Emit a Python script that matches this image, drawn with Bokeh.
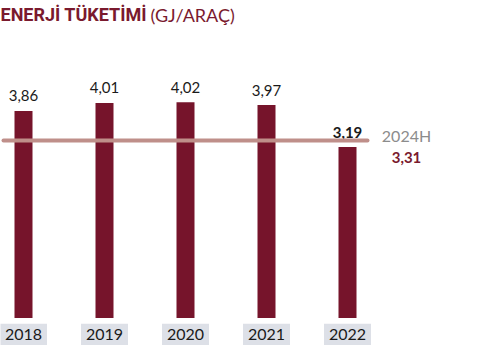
from bokeh.plotting import figure
from bokeh.models import ColumnDataSource, Range1d
from bokeh.core.properties import value
from bokeh.embed import file_html
from bokeh.resources import INLINE

years = ["2018", "2019", "2020", "2021", "2022"]
values = [3.86, 4.01, 4.02, 3.97, 3.19]
value_labels = ["3,86", "4,01", "4,02", "3,97", "3,19"]
target_value = 3.31
target_name = "2024H"
target_label = "3,31"
title_bold = "ENERJİ TÜKETİMİ"
title_unit = "(GJ/ARAÇ)"

BAR = "#76142b"
TITLE = "#7a1a2e"
LINE = "#bf8f8a"
BOX = "#dde0e7"
GRAY = "#8c8c8c"
FONT = "Lato"

W, H = 484, 345
px_x = 81.0            # pixels per category step
x0 = 23.0              # pixel position of first category centre
zero_px = 317.5        # pixel (from top) of value 0
px_y = 53.64           # pixels per unit

xr = Range1d(-x0 / px_x, (W - x0) / px_x)
yr = Range1d(-(H - zero_px) / px_y, zero_px / px_y)

p = figure(width=W, height=H, x_range=xr, y_range=yr, output_backend="svg",
           toolbar_location=None, min_border=0, outline_line_color=None)
p.axis.visible = False
p.grid.visible = False
p.background_fill_color = "white"
p.border_fill_color = "white"

xs = list(range(len(years)))
src = ColumnDataSource(dict(x=xs, top=values, lab=value_labels, year=years))

# bars
p.vbar(x="x", top="top", bottom=0, width=18 / px_x, source=src,
       fill_color=BAR, line_color=None)

# value labels (last one bold)
norm = ColumnDataSource(dict(x=xs[:-1], y=values[:-1], t=value_labels[:-1]))
last = ColumnDataSource(dict(x=xs[-1:], y=values[-1:], t=value_labels[-1:]))
p.text(x="x", y="y", text="t", source=norm, text_align="center",
       text_baseline="alphabetic", y_offset=-15, text_font=value(FONT),
       text_font_size="15px", text_color="#1a1a1a")
p.text(x="x", y="y", text="t", source=last, text_align="center",
       text_baseline="alphabetic", y_offset=-14, text_font=value(FONT),
       text_font_size="15px", text_font_style="bold", text_color="#1a1a1a")

# target line
p.segment(x0=[-20 / px_x], y0=[target_value], x1=[344 / px_x], y1=[target_value],
          line_color=LINE, line_width=4, line_cap="round")
tx = (406 - x0) / px_x
p.text(x=[tx], y=[target_value], text=[target_name], text_align="center",
       text_baseline="alphabetic", y_offset=-5, text_font=value(FONT),
       text_font_size="16px", text_color=GRAY)
p.text(x=[tx], y=[target_value], text=[target_label], text_align="center",
       text_baseline="alphabetic", y_offset=17, text_font=value(FONT),
       text_font_size="15px", text_font_style="bold", text_color=TITLE)

# category boxes and labels
box_y = -(334.1 - zero_px) / px_y
p.rect(x="x", y=box_y, width=47 / px_x, height=21.5 / px_y, source=src,
       fill_color=BOX, line_color=None)
p.text(x="x", y=box_y, text="year", source=src, text_align="center",
       text_baseline="middle", text_font=value(FONT), text_font_size="16px",
       text_color="#1a1a1a")

# title
ty = (zero_px - 14) / px_y
p.text(x=[-x0 / px_x], y=[ty], text=[title_bold], text_align="left",
       text_baseline="alphabetic", text_font=value("Roboto"),
       text_font_size="18px", text_font_style="bold", text_color=TITLE)
p.text(x=[(150 - x0) / px_x], y=[ty], text=[title_unit], text_align="left",
       text_baseline="alphabetic", text_font=value(FONT),
       text_font_size="18px", text_color=TITLE)

open("out.html", "w").write(file_html(p, INLINE))
